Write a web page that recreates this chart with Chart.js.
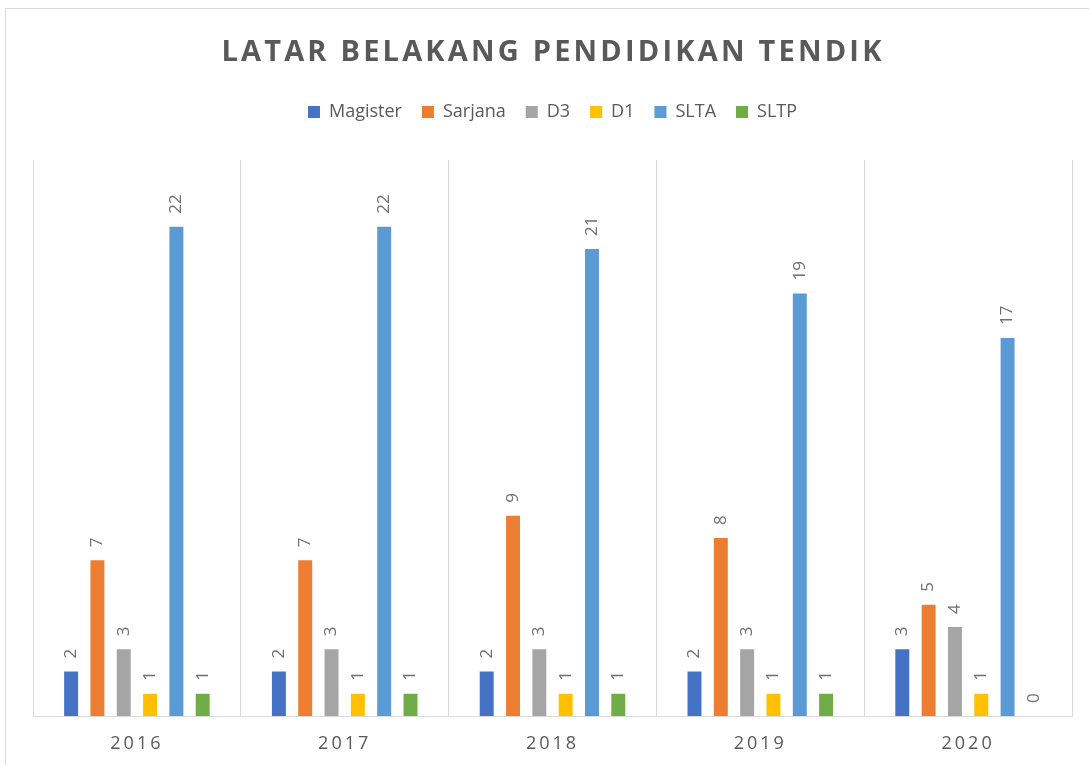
<!DOCTYPE html>
<html>
<head>
<meta charset="utf-8">
<script src="https://cdn.jsdelivr.net/npm/chart.js@4"></script>
<style>
  body { margin: 0; background: #fff; }
  #wrap { position: relative; width: 1089px; height: 765px; }
</style>
</head>
<body>
<div id="wrap"><canvas id="myChart"></canvas></div>
<script>
// data
var years = ["2016", "2017", "2018", "2019", "2020"];
var magister = [2, 2, 2, 2, 3];
var sarjana = [7, 7, 9, 8, 5];
var d3 = [3, 3, 3, 3, 4];
var d1 = [1, 1, 1, 1, 1];
var slta = [22, 22, 21, 19, 17];
var sltp = [1, 1, 1, 1, 0];
var chartTitle = "LATAR BELAKANG PENDIDIKAN TENDIK";

var textGrey = '#595959';
var gridGrey = '#d9d9d9';

// frame + title, drawn with letter spacing
var decorPlugin = {
    id: 'decor',
    afterInit: function (chart) {
        // leave a gap between legend and plot area
        var legend = chart.legend;
        var fit = legend.fit;
        legend.fit = function () {
            fit.call(this);
            this.height += 29;
        };
    },
    beforeDraw: function (chart) {
        var ctx = chart.ctx;
        ctx.save();
        ctx.strokeStyle = gridGrey;
        ctx.lineWidth = 1;
        ctx.beginPath();
        ctx.moveTo(5.5, 765);
        ctx.lineTo(5.5, 8.5);
        ctx.lineTo(1089, 8.5);
        ctx.stroke();

        ctx.fillStyle = textGrey;
        ctx.font = "bold 29px 'Open Sans'";
        ctx.letterSpacing = '3.2px';
        ctx.textAlign = 'center';
        ctx.textBaseline = 'alphabetic';
        ctx.fillText(chartTitle, 553, 61);
        ctx.restore();
    },
    afterDraw: function (chart) {
        // year labels under the axis
        var ctx = chart.ctx;
        var xScale = chart.scales.x;
        ctx.save();
        ctx.fillStyle = textGrey;
        ctx.font = "18px 'Open Sans'";
        ctx.letterSpacing = '3px';
        ctx.textAlign = 'center';
        ctx.textBaseline = 'alphabetic';
        years.forEach(function (y, i) {
            ctx.fillText(y, xScale.getPixelForTick(i), 749);
        });
        ctx.restore();
    },
    afterDatasetsDraw: function (chart) {
        // rotated value labels above each bar
        var ctx = chart.ctx;
        ctx.save();
        ctx.fillStyle = '#6f6f6f';
        ctx.font = "17px 'Open Sans'";
        ctx.textAlign = 'left';
        ctx.textBaseline = 'middle';
        chart.data.datasets.forEach(function (ds, di) {
            var meta = chart.getDatasetMeta(di);
            meta.data.forEach(function (bar, i) {
                ctx.save();
                ctx.translate(bar.x, bar.y - 13);
                ctx.rotate(-Math.PI / 2);
                ctx.fillText(String(ds.data[i]), 0, 0);
                ctx.restore();
            });
        });
        ctx.restore();
    }
};

var ctx = document.getElementById('myChart').getContext('2d');
var chart = new Chart(ctx, {
    type: 'bar',
    data: {
        labels: years,
        datasets: [
            { label: "Magister", data: magister, backgroundColor: '#4472C4' },
            { label: "Sarjana", data: sarjana, backgroundColor: '#ED7D31' },
            { label: "D3", data: d3, backgroundColor: '#A5A5A5' },
            { label: "D1", data: d1, backgroundColor: '#FFC000' },
            { label: "SLTA", data: slta, backgroundColor: '#5B9BD5' },
            { label: "SLTP", data: sltp, backgroundColor: '#70AD47' }
        ]
    },
    options: {
        responsive: true,
        maintainAspectRatio: false,
        animation: false,
        categoryPercentage: 0.76,
        barPercentage: 0.53,
        layout: {
            padding: { top: 83, left: 33, right: 17, bottom: 49 }
        },
        plugins: {
            legend: {
                position: 'top',
                labels: {
                    boxWidth: 12,
                    boxHeight: 12,
                    padding: 20,
                    color: textGrey,
                    font: { family: "'Open Sans'", size: 18 }
                }
            },
            tooltip: { enabled: false }
        },
        scales: {
            x: {
                grid: { color: gridGrey, drawTicks: false, offset: true },
                border: { color: gridGrey },
                ticks: { display: false }
            },
            y: {
                display: false,
                min: 0,
                max: 25
            }
        }
    },
    plugins: [decorPlugin]
});
</script>
</body>
</html>
